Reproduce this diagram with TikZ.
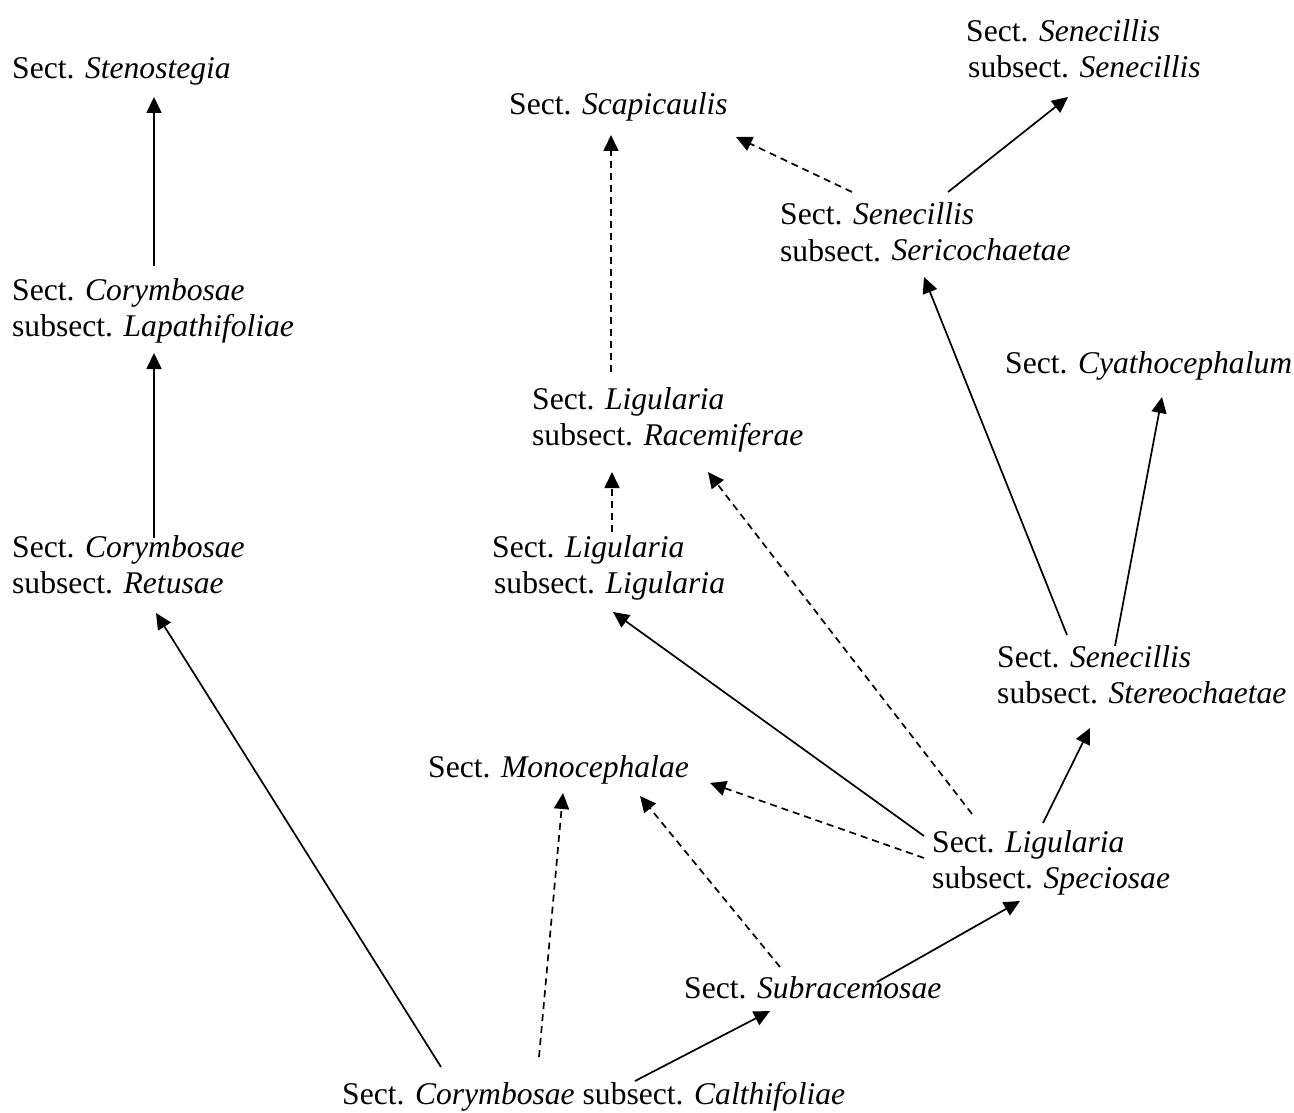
\documentclass[tikz,border=0pt]{standalone}
\usepackage{fontspec}
\setmainfont{Liberation Serif}
\usetikzlibrary{arrows.meta}
\newcommand\tln[2]{\vtop{\baselineskip=36pt\lineskiplimit=-100pt\hbox{#1}\hbox{#2}}}
\begin{document}
\begin{tikzpicture}[x=1pt,y=-1pt,
  taxon/.style={anchor=base west,inner sep=0pt,font=\fontsize{31.6}{36}\selectfont},
  link/.style={line width=1.7pt,-{Triangle[length=16pt,width=15pt]}},
  dlink/.style={link,dash pattern=on 7pt off 5pt}]
\useasboundingbox (0,0) rectangle (1294,1113);
\node[taxon] (ste) at (12,79) {Sect. \textit{Stenostegia}};
\node[taxon] (lap) at (12,300) {\tln{Sect. \textit{Corymbosae}}{subsect. \textit{Lapathifoliae}}};
\node[taxon] (ret) at (12,557) {\tln{Sect. \textit{Corymbosae}}{subsect. \textit{Retusae}}};
\node[taxon] (cal) at (342,1104) {Sect. \textit{Corymbosae} subsect. \textit{Calthifoliae}};
\node[taxon] (mono) at (428,777) {Sect. \textit{Monocephalae}};
\node[taxon] (sub) at (684,998) {Sect. \textit{Subracemosae}};
\node[taxon] (spe) at (932,852) {\tln{Sect. \textit{Ligularia}}{subsect. \textit{Speciosae}}};
\node[taxon] (lig) at (492,557) {\tln{Sect. \textit{Ligularia}}{\hspace{2pt}subsect. \textit{Ligularia}}};
\node[taxon] (rac) at (532,409) {\tln{Sect. \textit{Ligularia}}{subsect. \textit{Racemiferae}}};
\node[taxon] (sca) at (509,115) {Sect. \textit{Scapicaulis}};
\node[taxon] (ser) at (780,225) {\tln{Sect. \textit{Senecillis}}{subsect. \textit{Sericochaetae}}};
\node[taxon] (sen) at (966,42) {\tln{Sect. \textit{Senecillis}}{\hspace{2pt}subsect. \textit{Senecillis}}};
\node[taxon] (cya) at (1005,373) {Sect. \textit{Cyathocephalum}};
\node[taxon] (sto) at (997,667) {\tln{Sect. \textit{Senecillis}}{subsect. \textit{Stereochaetae}}};
% connectors
\draw[link] ([shift={(142,-34)}]lap.base west) -- ([shift={(142,18)}]ste.base west);
\draw[link] ([shift={(142,-19)}]ret.base west) -- ([shift={(142,53)}]lap.base west);
\draw[link] ([shift={(99,-37)}]cal.base west) -- ([shift={(144,56)}]ret.base west);
\draw[dlink] ([shift={(197,-47)}]cal.base west) -- ([shift={(135,16)}]mono.base west);
\draw[link] ([shift={(293,-23)}]cal.base west) -- ([shift={(86,13)}]sub.base west);
\draw[dlink] ([shift={(96,-31)}]sub.base west) -- ([shift={(212,19)}]mono.base west);
\draw[link] ([shift={(193,-16)}]sub.base west) -- ([shift={(88,49)}]spe.base west);
\draw[dlink] ([shift={(-8,6)}]spe.base west) -- ([shift={(282,6)}]mono.base west);
\draw[link] ([shift={(-8,-16)}]spe.base west) -- ([shift={(121,55)}]lig.base west);
\draw[dlink] ([shift={(40,-38)}]spe.base west) -- ([shift={(176,63)}]rac.base west);
\draw[link] ([shift={(111,-29)}]spe.base west) -- ([shift={(93,61)}]sto.base west);
\draw[link] ([shift={(70,-32)}]sto.base west) -- ([shift={(144,52)}]ser.base west);
\draw[link] ([shift={(118,-21)}]sto.base west) -- ([shift={(157,24)}]cya.base west);
\draw[dlink] ([shift={(120,-25)}]lig.base west) -- ([shift={(80,63)}]rac.base west);
\draw[dlink] ([shift={(79,-37)}]rac.base west) -- ([shift={(102,20)}]sca.base west);
\draw[dlink] ([shift={(72,-33)}]ser.base west) -- ([shift={(227,22)}]sca.base west);
\draw[link] ([shift={(168,-33)}]ser.base west) -- ([shift={(102,55)}]sen.base west);
\end{tikzpicture}
\end{document}
